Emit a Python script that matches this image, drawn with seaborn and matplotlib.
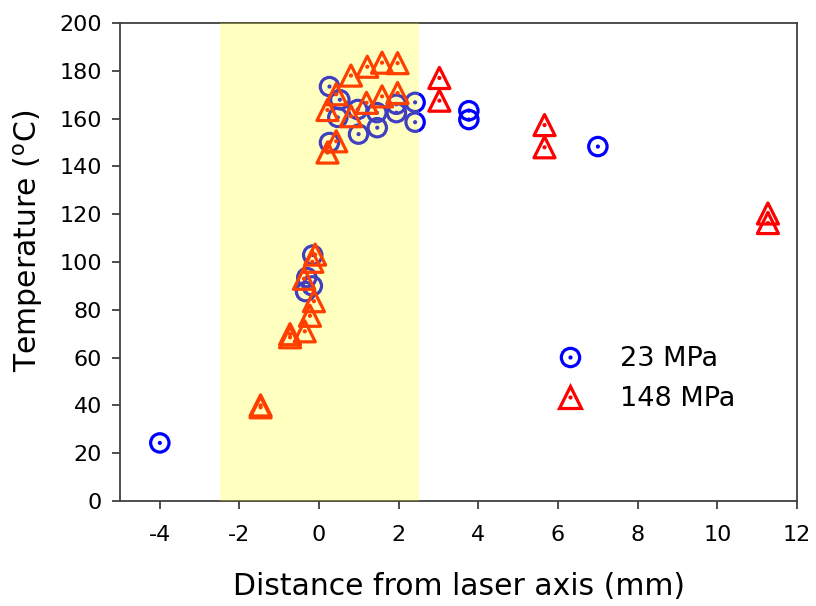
import matplotlib
matplotlib.use("Agg")
import matplotlib.pyplot as plt
import pandas as pd
import seaborn as sns
from matplotlib.lines import Line2D

# Measured temperatures vs. distance from the laser axis
dist_23 = [-4.0, -0.34, -0.17, -0.31, -0.16, 0.26, 0.26, 0.47, 0.52, 0.97,
           0.99, 1.45, 1.46, 1.94, 1.94, 2.41, 2.41, 3.76, 3.76, 7.0]
temp_23 = [24.3, 87.6, 90.0, 93.5, 102.9, 150.0, 173.4, 160.5, 167.9, 163.8,
           153.5, 162.5, 156.2, 162.5, 166.0, 166.8, 158.5, 163.3, 159.6, 148.3]

dist_148 = [-1.47, -1.47, -0.73, -0.73, -0.36, -0.23, -0.13, -0.38, -0.17, -0.10,
            0.21, 0.43, 0.21, 0.80, 0.43, 1.19, 1.58, 1.97, 0.80, 1.21,
            1.58, 1.97, 3.02, 3.02, 5.66, 5.66, 11.27, 11.27]
temp_148 = [40.0, 39.2, 69.8, 68.5, 71.0, 77.5, 83.6, 93.0, 100.1, 103.1,
            145.8, 150.5, 163.6, 161.0, 170.2, 166.6, 169.3, 170.7, 178.0, 181.7,
            183.4, 183.2, 177.0, 167.5, 157.3, 148.0, 120.3, 116.3]

series_labels = ["23 MPa", "148 MPa"]
x_ticks = [-4, -2, 0, 2, 4, 6, 8, 10, 12]
y_ticks = [0, 20, 40, 60, 80, 100, 120, 140, 160, 180, 200]
laser_zone = (-2.5, 2.5)

df23 = pd.DataFrame({"dist": dist_23, "temp": temp_23})
df148 = pd.DataFrame({"dist": dist_148, "temp": temp_148})

sns.set_style("ticks")
plt.rcParams["font.family"] = ["DejaVu Sans"]
plt.rcParams["text.color"] = "black"
plt.rcParams["axes.labelcolor"] = "black"

BLUE = (0.0, 0.0, 1.0)
RED = (1.0, 0.0, 0.0)
SPINE = "#404040"

fig = plt.figure(figsize=(8.16, 6.06), dpi=100)
ax = fig.add_axes([120 / 816, 1 - 501 / 606, 677 / 816, 478 / 606])

# open markers with a small centre dot
sns.scatterplot(data=df23, x="dist", y="temp", ax=ax, marker="o", s=175,
                color="none", edgecolor=BLUE, linewidth=2.3, zorder=2)
sns.scatterplot(data=df23, x="dist", y="temp", ax=ax, marker="o", s=9,
                color=BLUE, edgecolor="none", linewidth=0, zorder=2)
sns.scatterplot(data=df148, x="dist", y="temp", ax=ax, marker="^", s=230,
                color="none", edgecolor=RED, linewidth=2.3, zorder=3)
sns.scatterplot(data=df148, x="dist", y="temp", ax=ax, marker="o", s=9,
                color=RED, edgecolor="none", linewidth=0, zorder=3)

# laser-heated zone, translucent yellow over the markers
ax.axvspan(*laser_zone, facecolor=(1.0, 1.0, 0.0), alpha=0.25,
           edgecolor="none", zorder=4)

ax.set_xlim(-5, 12)
ax.set_ylim(0, 200)
ax.set_xticks(x_ticks)
ax.set_xticklabels([str(t) for t in x_ticks])
ax.set_yticks(y_ticks)
ax.tick_params(axis="both", direction="out", length=6, width=1.3,
               color=SPINE, labelsize=16, labelcolor="black", pad=7,
               top=False, right=False)
ax.tick_params(axis="x", pad=11)
for sp in ax.spines.values():
    sp.set_visible(True)
    sp.set_color(SPINE)
    sp.set_linewidth(1.3)

ax.set_xlabel("Distance from laser axis (mm)", fontsize=21.5, labelpad=20)
ax.set_ylabel(r"Temperature ($^{\mathrm{o}}$C)", fontsize=21.5)
ax.yaxis.set_label_coords(-0.111, 0.544)

h23 = (Line2D([], [], ls="none", marker="o", ms=13.2, mfc="none", mec=BLUE, mew=2.3),
       Line2D([], [], ls="none", marker="o", ms=3.0, mfc=BLUE, mec="none"))
h148 = (Line2D([], [], ls="none", marker="^", ms=15.2, mfc="none", mec=RED, mew=2.3),
        Line2D([], [], ls="none", marker="o", ms=3.0, mfc=RED, mec="none"))
ax.legend([h23, h148], series_labels, loc="upper left",
          bbox_to_anchor=(0.597, 0.375), frameon=False, fontsize=19.5,
          handlelength=1.6, handletextpad=1.05, labelspacing=0.52)

fig.savefig("out.png", dpi=100)
